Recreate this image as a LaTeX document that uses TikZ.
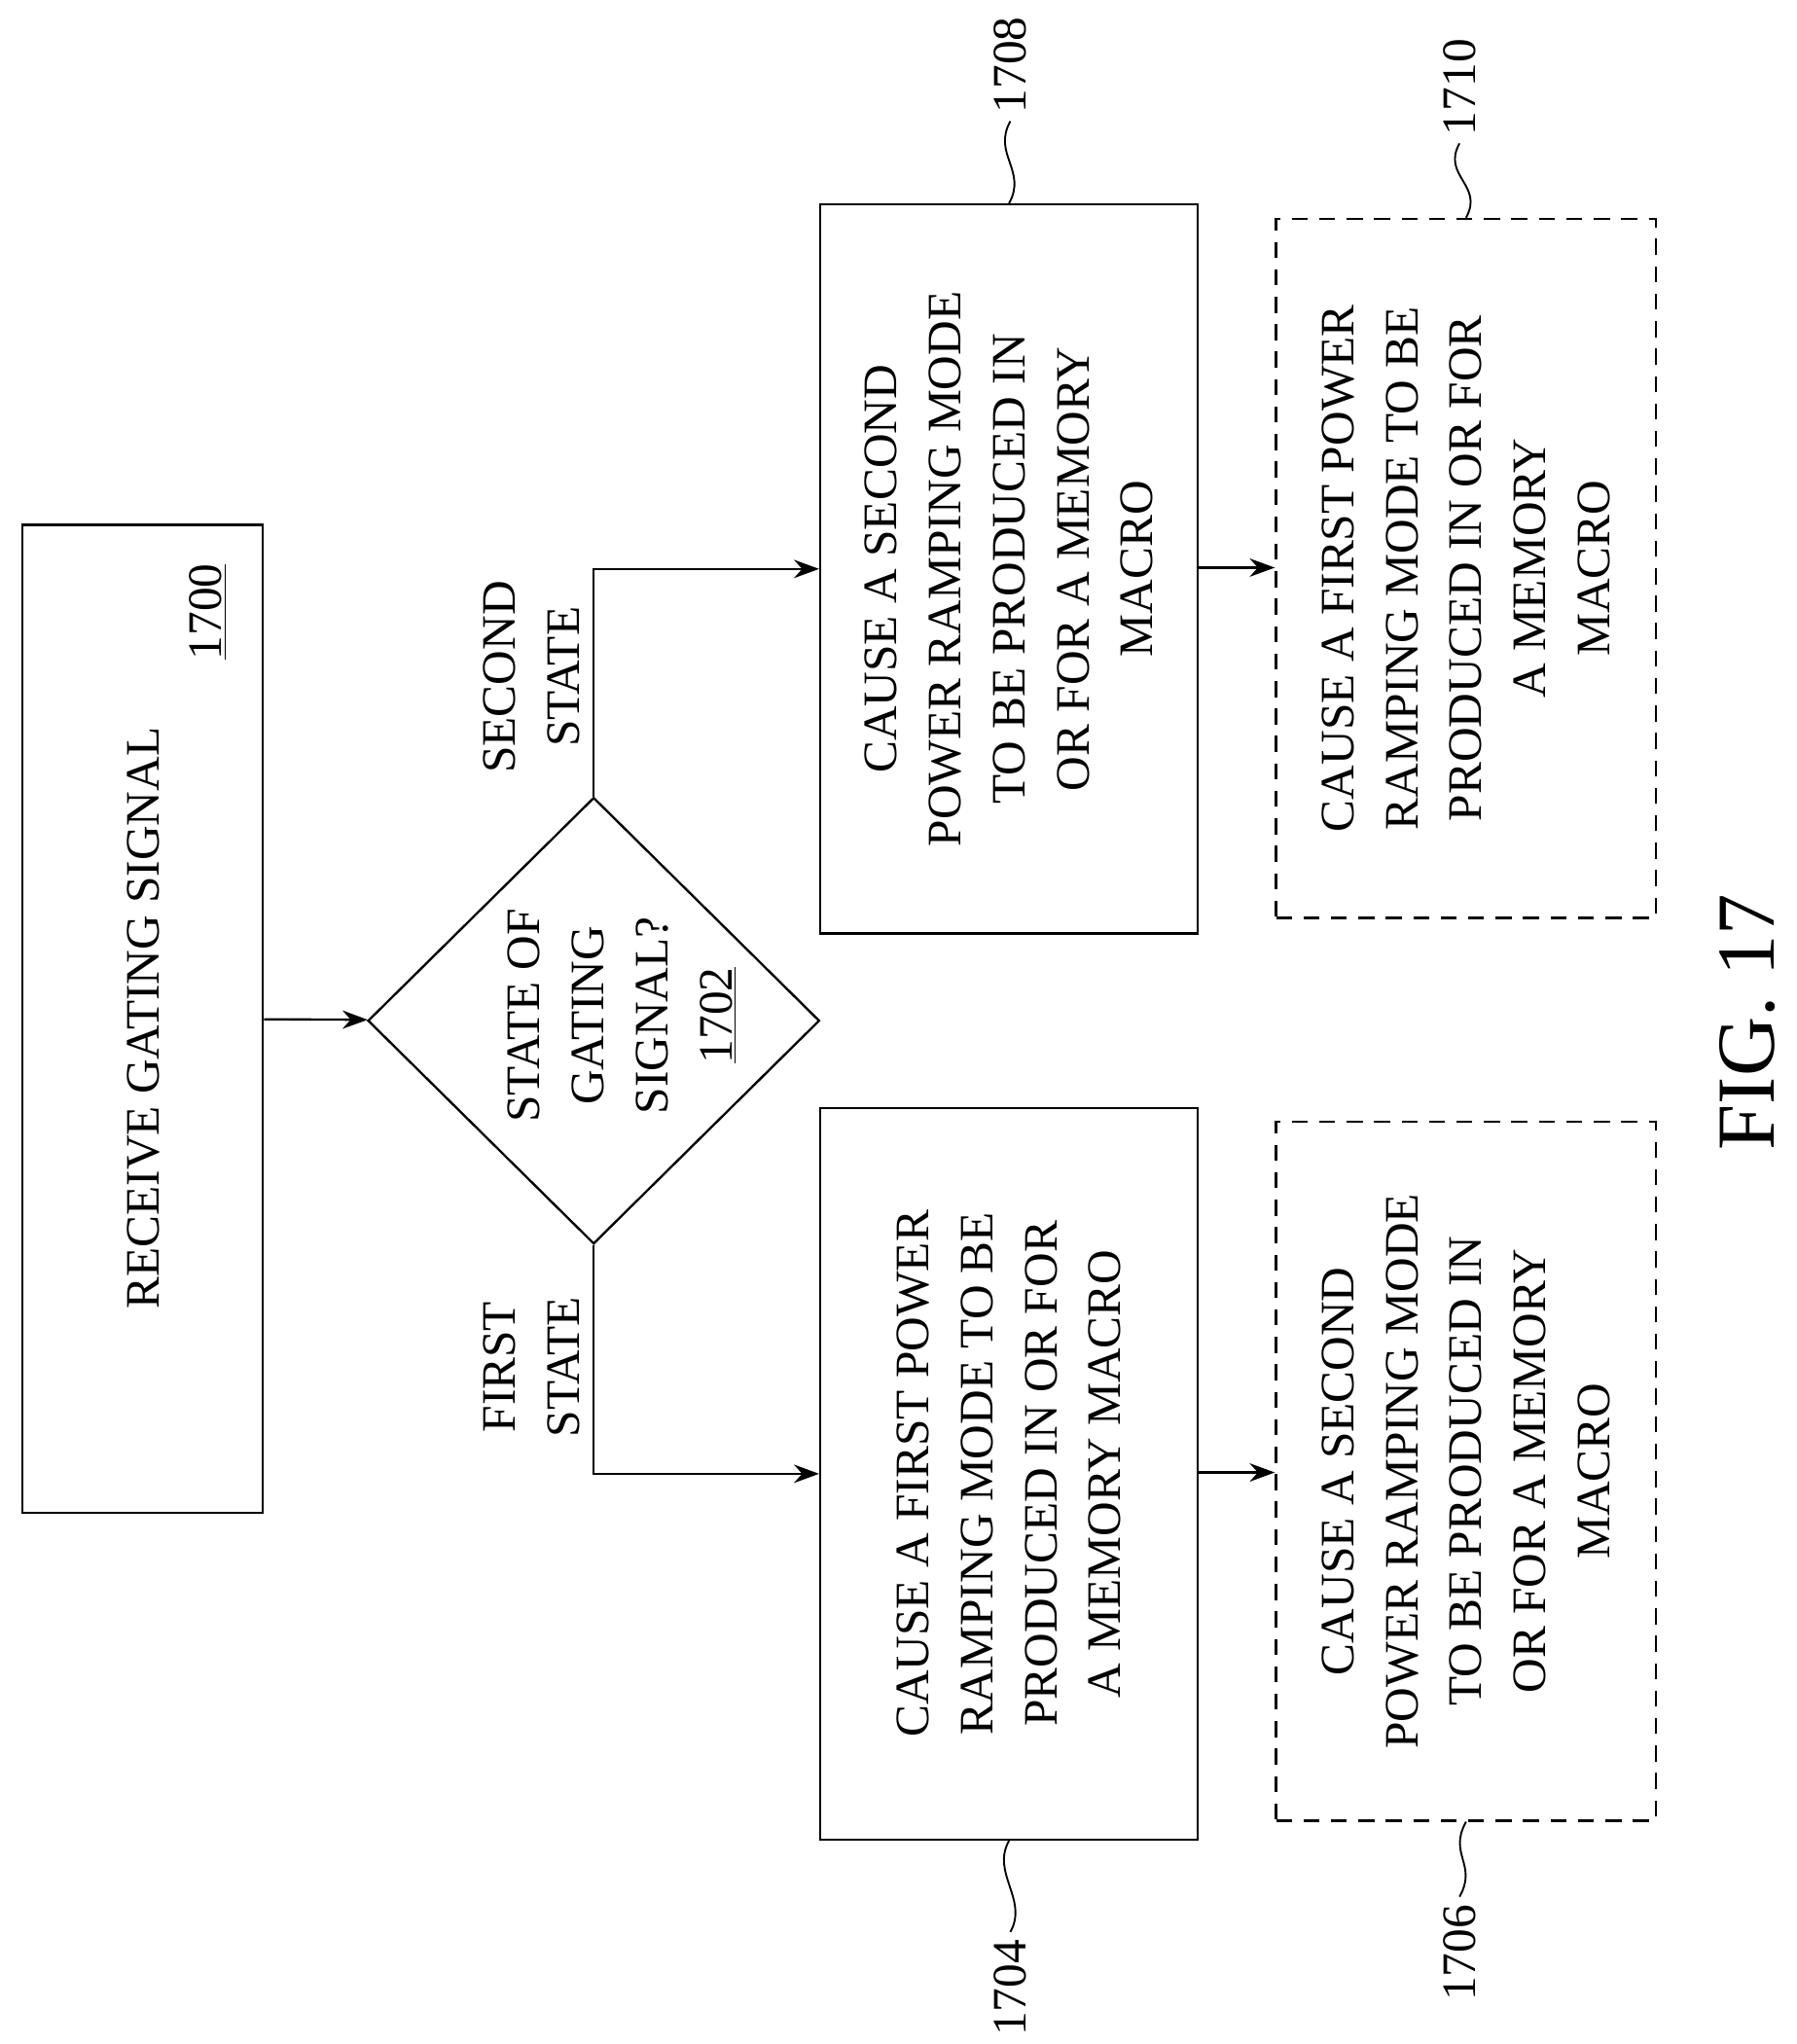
\documentclass[tikz,border=0pt]{standalone}
\usepackage{fontspec}
\setmainfont{Liberation Serif}
\usetikzlibrary{shapes.geometric,positioning,calc,arrows.meta}
\tikzset{
  %% procbox : a solid process box (size set per node)
  procbox/.style={
    rectangle,
    draw=black,
    line width=1pt
  },
  %% option : an optional (dashed) process box
  option/.style={
    rectangle,
    draw=black,
    line width=1pt,
    dash pattern=on 7pt off 5pt
  },
  %% txt : rotated text inside a box
  txt/.style={
    rotate=90,
    align=center,
    font=\fontsize{21}{28}\selectfont
  },
  %% refnum : reference numeral beside a box
  refnum/.style={
    rotate=90,
    font=\fontsize{21}{26}\selectfont
  },
  %% flow : arrow between steps
  flow/.style={line width=1pt, -{Stealth[length=11pt,width=8pt]}}
}

\begin{document}
\begin{tikzpicture}
  [x=0.02cm,
  y=-0.02cm]

  \useasboundingbox (0,0) rectangle (1380,1570);

  %% Boxes
  \node (receive) [procbox, minimum width=3.7cm, minimum height=15.18cm]
  at (109.5,782.5) {};
  \node [txt] at (110,782) {RECEIVE GATING SIGNAL};
  \node [txt] at (160,470) {\underline{1700}};

  \node (decide) [diamond, draw=black, line width=1pt, inner sep=0pt,
  minimum width=6.94cm, minimum height=6.86cm] at (456,784) {};
  \node [txt] at (478,780) {STATE OF\\GATING\\SIGNAL?\\\underline{1702}};

  \node (second) [procbox, minimum width=5.8cm, minimum height=11.2cm]
  at (775,437) {};
  \node [txt] at (775,437) {CAUSE A SECOND\\POWER RAMPING MODE\\TO BE PRODUCED IN\\OR FOR A MEMORY\\MACRO};

  \node (first) [procbox, minimum width=5.8cm, minimum height=11.24cm]
  at (775,1132) {};
  \node [txt] at (775,1132) {CAUSE A FIRST POWER\\RAMPING MODE TO BE\\PRODUCED IN OR FOR\\A MEMORY MACRO};

  \node (firstopt) [option, minimum width=5.84cm, minimum height=10.74cm]
  at (1126,436.5) {};
  \node [txt] at (1126,436.5) {CAUSE A FIRST POWER\\RAMPING MODE TO BE\\PRODUCED IN OR FOR\\A MEMORY\\MACRO};

  \node (secondopt) [option, minimum width=5.84cm, minimum height=10.74cm]
  at (1126,1130) {};
  \node [txt] at (1126,1130) {CAUSE A SECOND\\POWER RAMPING MODE\\TO BE PRODUCED IN\\OR FOR A MEMORY\\MACRO};

  %% Connections
  \draw [flow] (receive) -- (decide);
  \draw [flow] (decide.north) |- (second);
  \draw [flow] (decide.south) |- (first);
  \draw [flow] (second.east |- 0,436) -- (firstopt.west |- 0,436);
  \draw [flow] (first.east |- 0,1131) -- (secondopt.west |- 0,1131);

  \node [txt] at (408,520) {SECOND\\STATE};
  \node [txt] at (408,1050) {FIRST\\STATE};

  %% Reference numerals
  \node (n1708) [refnum] at (776,50) {1708};
  \node (n1704) [refnum] at (776,1527) {1704};
  \node (n1710) [refnum] at (1121,67) {1710};
  \node (n1706) [refnum] at (1121,1500) {1706};
  \draw [line width=0.8pt] (n1708.west) .. controls +(-14,25) and +(14,-25) .. (second.north);
  \draw [line width=0.8pt] (n1704.east) .. controls +(14,-25) and +(-14,25) .. (first.south);
  \draw [line width=0.8pt] (n1710.west) .. controls +(-14,25) and +(14,-25) .. (firstopt.north);
  \draw [line width=0.8pt] (n1706.east) .. controls +(14,-25) and +(-14,25) .. (secondopt.south);

  \node (fig) [rotate=90, font=\fontsize{36}{40}\selectfont] at (1342,785) {FIG. 17};

\end{tikzpicture}
\end{document}
